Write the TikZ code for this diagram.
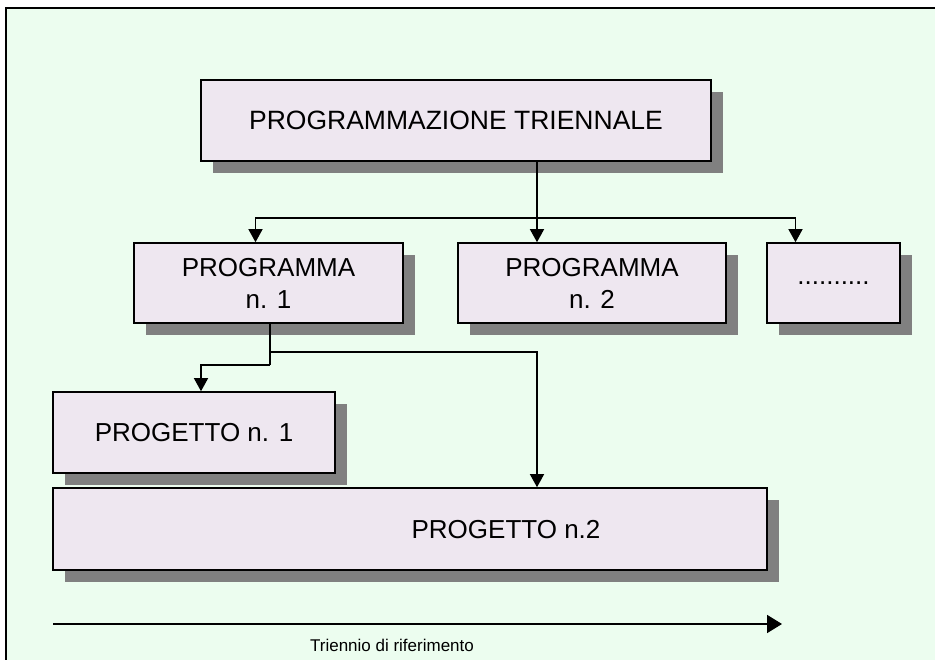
\documentclass[tikz,border=0pt]{standalone}
\usepackage{fontspec}
\setmainfont{Liberation Sans}
\usetikzlibrary{arrows.meta,shadows}
\definecolor{bggreen}{RGB}{236,253,239}
\definecolor{boxfill}{RGB}{238,231,240}
\definecolor{shadowgray}{RGB}{128,128,128}
\begin{document}
\begin{tikzpicture}[x=1pt,y=-1pt,
  box/.style={draw=black,line width=1.6pt,fill=boxfill,inner sep=0pt,align=center,
    font=\fontsize{26}{32}\selectfont,
    drop shadow={shadow xshift=12pt,shadow yshift=-12pt,fill=shadowgray,opacity=1}},
  conn/.style={line width=1.4pt,draw=black},
  tri/.tip={Triangle[width=14pt,length=13pt]},
  timeline/.style={line width=1.8pt,-{Triangle[width=18pt,length=15pt]}},
  lbl/.style={inner sep=0pt,font=\fontsize{26}{32}\selectfont}]
\useasboundingbox (0,0) rectangle (935,660);
\fill[white] (0,0) rectangle (935,660);
\draw[line width=1.5pt,fill=bggreen] (6,8) rectangle (950,680);

\node[box,minimum width=510pt,minimum height=81pt] (top) at (456,120.5) {\fontsize{26.5}{32}\selectfont PROGRAMMAZIONE TRIENNALE};
\node[box,minimum width=269pt,minimum height=80pt] (prog1) at (268.5,283) {PROGRAMMA\\n. 1};
\node[box,minimum width=268pt,minimum height=80pt] (prog2) at (592,283) {PROGRAMMA\\n. 2};
\node[box,minimum width=133pt,minimum height=80pt] (dots) at (833.5,283) {..........};
\node[box,minimum width=282pt,minimum height=81pt] (pj1) at (194,432.5) {PROGETTO n. 1};
\node[box,minimum width=714pt,minimum height=82pt] (pj2) at (410,529) {};
\node[lbl] (pj2t) at (506,530) {PROGETTO n.2};

\coordinate (j1) at (537,218);
\draw[conn] (top.south -| j1) -- (j1);
\draw[conn,-tri] (j1) -- (j1 |- prog2.north);
\draw[conn,-tri] (j1) -| ([xshift=-13pt]prog1.north);
\draw[conn,-tri] (j1) -| ([xshift=-38pt]dots.north);

\coordinate (j2) at (270,352);
\coordinate (j3) at (270,365);
\draw[conn] (prog1.south -| j2) -- (j3);
\draw[conn,-tri] (j2) -| (j1 |- pj2.north);
\draw[conn,-tri] (j3) -| ([xshift=7pt]pj1.north);

\coordinate (t0) at (53,624);
\coordinate (t1) at (782,624);
\draw[timeline] (t0) -- (t1);
\node[inner sep=0pt,font=\fontsize{17}{19}\selectfont] (tl) at (392,645) {Triennio di riferimento};
\end{tikzpicture}
\end{document}
